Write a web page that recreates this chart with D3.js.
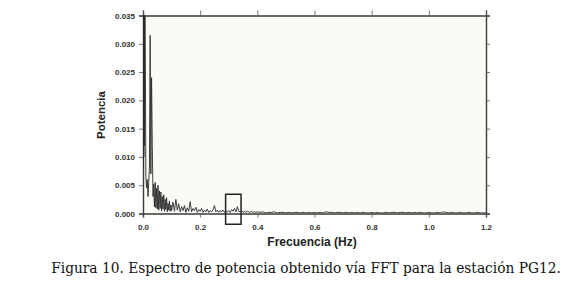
<!DOCTYPE html>
<html>
<head>
<meta charset="utf-8">
<script src="https://cdn.jsdelivr.net/npm/d3@7"></script>
<style>
  body { margin: 0; background: #fff; }
  svg { display: block; }
</style>
</head>
<body>
<div id="container"></div>
<script>
// frequency (Hz) and power values
const freqs = [
  0.000, 0.001, 0.002, 0.003, 0.004, 0.005, 0.006, 0.0075, 0.010, 0.0125,
  0.015, 0.0175, 0.020, 0.0225,
  0.025, 0.0275, 0.030, 0.0325, 0.035, 0.0375, 0.040, 0.0425, 0.045, 0.0475,
  0.050, 0.0525, 0.055, 0.0575, 0.060, 0.0625, 0.065, 0.0675, 0.070, 0.0725,
  0.075, 0.0775, 0.080, 0.0825, 0.085, 0.0875, 0.090, 0.0925, 0.095, 0.0975,
  0.100, 0.105, 0.110, 0.115, 0.120, 0.125, 0.130, 0.135, 0.140, 0.145,
  0.150, 0.155, 0.160, 0.165, 0.170, 0.175, 0.180, 0.185, 0.190, 0.195,
  0.200, 0.205, 0.210, 0.215, 0.220, 0.225, 0.230, 0.235, 0.240, 0.245,
  0.250, 0.255, 0.260, 0.265, 0.270, 0.275, 0.280, 0.285, 0.290, 0.295,
  0.300, 0.305, 0.310, 0.315, 0.320, 0.325, 0.330, 0.335, 0.340, 0.345,
  0.350, 0.355, 0.360, 0.365, 0.370, 0.375, 0.380, 0.385, 0.390, 0.395,
  0.400, 0.41, 0.42, 0.43, 0.44, 0.45, 0.46, 0.47, 0.48, 0.49,
  0.50, 0.51, 0.52, 0.53, 0.54, 0.55, 0.56, 0.57, 0.58, 0.59,
  0.60, 0.61, 0.62, 0.63, 0.64, 0.65, 0.66, 0.67, 0.68, 0.69,
  0.70, 0.71, 0.72, 0.73, 0.74, 0.75, 0.76, 0.77, 0.78, 0.79,
  0.80, 0.81, 0.82, 0.83, 0.84, 0.85, 0.86, 0.87, 0.88, 0.89,
  0.90, 0.91, 0.92, 0.93, 0.94, 0.95, 0.96, 0.97, 0.98, 0.99,
  1.00, 1.01, 1.02, 1.03, 1.04, 1.05, 1.06, 1.07, 1.08, 1.09,
  1.10, 1.11, 1.12, 1.13, 1.14, 1.15, 1.16, 1.17, 1.18, 1.19, 1.20
];
const power = [
  0.0500, 0.0080, 0.0600, 0.0100, 0.0550, 0.0120, 0.0450, 0.0360, 0.0065, 0.0045,
  0.0060, 0.0030, 0.0055, 0.0080,
  0.0315, 0.0070, 0.0240, 0.0120, 0.0030, 0.0052, 0.0012, 0.0055, 0.0010, 0.0045,
  0.0008, 0.0050, 0.0006, 0.0040, 0.0009, 0.0038, 0.0005, 0.0030, 0.0008, 0.0033,
  0.0004, 0.0025, 0.0007, 0.0028, 0.0003, 0.0018, 0.0006, 0.0022, 0.0004, 0.0015,
  0.0005, 0.0020, 0.0004, 0.0025, 0.0006, 0.0017, 0.0003, 0.0012, 0.0005, 0.0014,
  0.0002, 0.0010, 0.0004, 0.0021, 0.0003, 0.0009, 0.0005, 0.0011, 0.0002, 0.0007,
  0.0004, 0.0009, 0.0002, 0.0006, 0.0003, 0.0008, 0.0002, 0.0005, 0.0003, 0.0007,
  0.0014, 0.0003, 0.0006, 0.0002, 0.0005, 0.0003, 0.0006, 0.0002, 0.0004, 0.0003,
  0.0005, 0.0002, 0.0007, 0.0004, 0.0009, 0.0003, 0.0012, 0.0004, 0.0003, 0.0005,
  0.0002, 0.0004, 0.0002, 0.0004, 0.0003, 0.0002, 0.0004, 0.0002, 0.0003, 0.0002,
  0.0003, 0.0002, 0.0003, 0.0001, 0.0002, 0.0002, 0.0003, 0.0001, 0.0002, 0.0002,
  0.0001, 0.0002, 0.0001, 0.0002, 0.0002, 0.0001, 0.0002, 0.0001, 0.0002, 0.0001,
  0.0002, 0.0001, 0.0002, 0.0001, 0.0003, 0.0002, 0.0002, 0.0001, 0.0002, 0.0002,
  0.0001, 0.0002, 0.0001, 0.0002, 0.0001, 0.0002, 0.0001, 0.0002, 0.0001, 0.0001,
  0.0002, 0.0001, 0.0002, 0.0001, 0.0001, 0.0002, 0.0001, 0.0002, 0.0002, 0.0001,
  0.0002, 0.0002, 0.0001, 0.0002, 0.0001, 0.0002, 0.0001, 0.0002, 0.0001, 0.0001,
  0.0002, 0.0001, 0.0001, 0.0002, 0.0001, 0.0003, 0.0002, 0.0001, 0.0002, 0.0001,
  0.0001, 0.0002, 0.0001, 0.0001, 0.0002, 0.0001, 0.0001, 0.0002, 0.0001, 0.0001, 0.0001
];
const xTicks = [0.0, 0.2, 0.4, 0.6, 0.8, 1.0, 1.2];
const yTicks = [0.000, 0.005, 0.010, 0.015, 0.020, 0.025, 0.030, 0.035];
// highlighted window around 0.32 Hz
const boxFreq = [0.289, 0.343];
const boxPow = [-0.0019, 0.0034];

const width = 575;
const height = 288;
const margin = { top: 15.5, right: 89, bottom: 74.5, left: 143 };
const innerW = width - margin.left - margin.right;
const innerH = height - margin.top - margin.bottom;

const data = freqs.map((f, i) => ({ f: f, p: power[i] }));

const svg = d3.select("#container")
  .append("svg")
  .attr("width", width)
  .attr("height", height);

const g = svg.append("g")
  .attr("transform", `translate(${margin.left}, ${margin.top})`);

const xScale = d3.scaleLinear().domain([0, 1.2]).range([0, innerW]);
const yScale = d3.scaleLinear().domain([0, 0.035]).range([innerH, 0]);

// plot background
g.append("rect")
  .attr("width", innerW)
  .attr("height", innerH)
  .attr("fill", "#fafaf7");

svg.append("clipPath")
  .attr("id", "clip")
  .append("rect")
  .attr("x", margin.left)
  .attr("y", margin.top)
  .attr("width", innerW)
  .attr("height", innerH);

// spectrum
svg.append("g")
  .attr("clip-path", "url(#clip)")
  .append("path")
  .attr("transform", `translate(${margin.left}, ${margin.top})`)
  .datum(data)
  .attr("fill", "none")
  .attr("stroke", "#2a2a2a")
  .attr("stroke-width", 0.9)
  .attr("d", d3.line().x(d => xScale(d.f)).y(d => yScale(d.p)));

const tickFont = "'Liberation Sans Narrow', 'Liberation Sans', Arial, sans-serif";

// axes on four sides
const axBottom = g.append("g")
  .attr("transform", `translate(0, ${innerH})`)
  .call(d3.axisBottom(xScale).tickValues(xTicks).tickSize(4).tickPadding(7).tickFormat(d3.format(".1f")));
const axTop = g.append("g")
  .call(d3.axisTop(xScale).tickValues(xTicks).tickSize(5).tickFormat(""));
const axLeft = g.append("g")
  .call(d3.axisLeft(yScale).tickValues(yTicks).tickSize(4).tickPadding(4).tickFormat(d3.format(".3f")));
const axRight = g.append("g")
  .attr("transform", `translate(${innerW}, 0)`)
  .call(d3.axisRight(yScale).tickValues(yTicks).tickSize(4).tickFormat(""));

[axBottom, axTop, axLeft, axRight].forEach(ax => {
  ax.select(".domain").attr("stroke", "#3a3a3a").attr("stroke-width", 1.4);
  ax.selectAll(".tick line").attr("stroke", "#555").attr("stroke-width", 0.8);
  ax.selectAll("text")
    .attr("fill", "#333")
    .style("font-family", tickFont)
    .style("font-size", "8px")
    .style("font-weight", "bold");
});

// highlight box
g.append("rect")
  .attr("x", xScale(boxFreq[0]))
  .attr("y", yScale(boxPow[1]))
  .attr("width", xScale(boxFreq[1]) - xScale(boxFreq[0]))
  .attr("height", yScale(boxPow[0]) - yScale(boxPow[1]))
  .attr("fill", "none")
  .attr("stroke", "#222")
  .attr("stroke-width", 1.5);

// axis titles
svg.append("text")
  .attr("x", 312)
  .attr("y", 246)
  .attr("text-anchor", "middle")
  .style("font-family", tickFont)
  .style("font-size", "12px")
  .style("font-weight", "bold")
  .attr("fill", "#222")
  .text("Frecuencia (Hz)");

svg.append("text")
  .attr("transform", "translate(105, 115) rotate(-90)")
  .attr("text-anchor", "middle")
  .style("font-family", "'Liberation Sans', Arial, sans-serif")
  .style("font-size", "11.5px")
  .style("font-weight", "bold")
  .attr("fill", "#222")
  .text("Potencia");

// caption, squeezed horizontally to the reference width
const captionG = svg.append("g");
const caption = captionG.append("text")
  .attr("x", 0)
  .attr("y", 0)
  .attr("text-anchor", "middle")
  .style("font-family", "'DejaVu Serif', serif")
  .style("font-size", "14.5px")
  .attr("fill", "#111")
  .text("Figura 10. Espectro de potencia obtenido vía FFT para la estación PG12.");
const natural = caption.node().getComputedTextLength();
const sx = Math.min(1, 510 / natural);
captionG.attr("transform", `translate(306, 273) scale(${sx}, 1)`);
</script>
</body>
</html>
